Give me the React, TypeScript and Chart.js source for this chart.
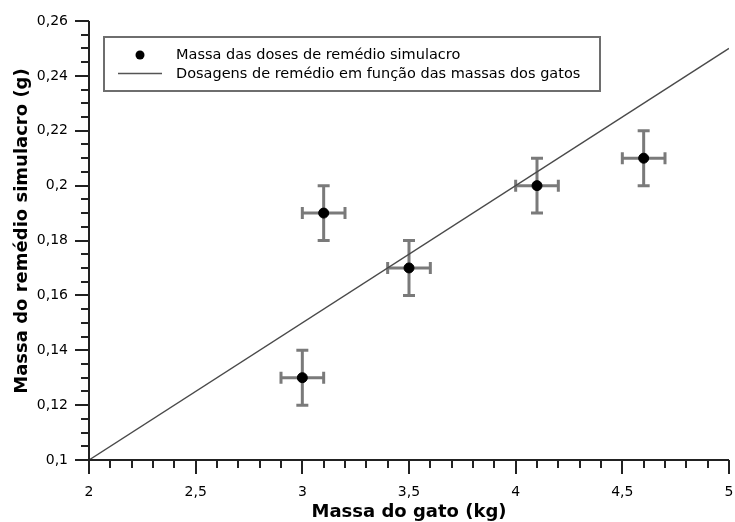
import React, { useEffect, useRef } from "react";
import { Chart, registerables } from "chart.js";

Chart.register(...registerables);

// Medições: massa do gato (kg) e massa da dose de remédio simulacro (g)
const massaGato = [3, 3.1, 3.5, 4.1, 4.6];
const massaDose = [0.13, 0.19, 0.17, 0.2, 0.21];
const erroGato = [0.1, 0.1, 0.1, 0.1, 0.1];
const erroDose = [0.01, 0.01, 0.01, 0.01, 0.01];

// Reta de dosagem em função da massa
const retaGato = [2, 5];
const retaDose = [0.1, 0.25];

const legendaPontos = "Massa das doses de remédio simulacro";
const legendaReta = "Dosagens de remédio em função das massas dos gatos";
const tituloX = "Massa do gato (kg)";
const tituloY = "Massa do remédio simulacro (g)";

const FONT = "'DejaVu Sans', Verdana, sans-serif";

const fmt = (v: number) => String(Number(v.toFixed(3))).replace(".", ",");
const isMultiple = (v: number, step: number) =>
  Math.abs(v / step - Math.round(v / step)) < 1e-6;

const errorBars = {
  id: "errorBars",
  beforeDatasetsDraw(chart: any) {
    const { ctx, scales } = chart;
    const x = scales.x;
    const y = scales.y;
    ctx.save();
    ctx.strokeStyle = "rgba(115,115,115,0.95)";
    ctx.lineWidth = 3;
    const cap = 6;
    massaGato.forEach((g, i) => {
      const px = x.getPixelForValue(g);
      const py = y.getPixelForValue(massaDose[i]);
      const x0 = x.getPixelForValue(g - erroGato[i]);
      const x1 = x.getPixelForValue(g + erroGato[i]);
      const y0 = y.getPixelForValue(massaDose[i] - erroDose[i]);
      const y1 = y.getPixelForValue(massaDose[i] + erroDose[i]);
      ctx.beginPath();
      ctx.moveTo(x0, py);
      ctx.lineTo(x1, py);
      ctx.moveTo(px, y0);
      ctx.lineTo(px, y1);
      ctx.moveTo(x0, py - cap);
      ctx.lineTo(x0, py + cap);
      ctx.moveTo(x1, py - cap);
      ctx.lineTo(x1, py + cap);
      ctx.moveTo(px - cap, y0);
      ctx.lineTo(px + cap, y0);
      ctx.moveTo(px - cap, y1);
      ctx.lineTo(px + cap, y1);
      ctx.stroke();
    });
    ctx.restore();
  },
};

const axesDecor = {
  id: "axesDecor",
  afterDraw(chart: any) {
    const { ctx, scales, chartArea } = chart;
    const x = scales.x;
    const y = scales.y;
    ctx.save();
    ctx.strokeStyle = "#222";
    ctx.lineWidth = 2;
    ctx.beginPath();
    // tick marks (major longer, minor shorter)
    x.ticks.forEach((t: any) => {
      const px = Math.round(x.getPixelForValue(t.value));
      const len = isMultiple(t.value, 0.5) ? 14 : 8;
      ctx.moveTo(px, chartArea.bottom);
      ctx.lineTo(px, chartArea.bottom + len);
    });
    y.ticks.forEach((t: any) => {
      const py = Math.round(y.getPixelForValue(t.value));
      const len = isMultiple(t.value, 0.02) ? 14 : 8;
      ctx.moveTo(chartArea.left, py);
      ctx.lineTo(chartArea.left - len, py);
    });
    // axis lines
    ctx.moveTo(chartArea.left, chartArea.top);
    ctx.lineTo(chartArea.left, chartArea.bottom);
    ctx.lineTo(chartArea.right, chartArea.bottom);
    ctx.stroke();

    // axis titles
    ctx.fillStyle = "#000";
    ctx.font = `bold 18px ${FONT}`;
    ctx.textAlign = "center";
    ctx.textBaseline = "middle";
    ctx.fillText(tituloX, (chartArea.left + chartArea.right) / 2, 512);
    ctx.translate(22, 231);
    ctx.rotate(-Math.PI / 2);
    ctx.fillText(tituloY, 0, 0);
    ctx.restore();

    // legend box
    ctx.save();
    ctx.fillStyle = "#fff";
    ctx.fillRect(104, 37, 496, 54);
    ctx.strokeStyle = "#6e6e6e";
    ctx.lineWidth = 2;
    ctx.strokeRect(104, 37, 496, 54);
    ctx.fillStyle = "#000";
    ctx.beginPath();
    ctx.arc(140, 55, 4.5, 0, Math.PI * 2);
    ctx.fill();
    ctx.strokeStyle = "#555";
    ctx.lineWidth = 1.5;
    ctx.beginPath();
    ctx.moveTo(118, 73.5);
    ctx.lineTo(162, 73.5);
    ctx.stroke();
    ctx.font = `14.5px ${FONT}`;
    ctx.textAlign = "left";
    ctx.textBaseline = "middle";
    ctx.fillText(legendaPontos, 176, 55);
    ctx.fillText(legendaReta, 176, 74);
    ctx.restore();
  },
};

export default function App() {
  const canvasRef = useRef<HTMLCanvasElement | null>(null);

  useEffect(() => {
    if (!canvasRef.current) return;
    const chart = new Chart(canvasRef.current, {
      type: "scatter",
      data: {
        datasets: [
          {
            type: "line",
            label: legendaReta,
            data: retaGato.map((g, i) => ({ x: g, y: retaDose[i] })),
            borderColor: "#4a4a4a",
            borderWidth: 1.4,
            pointRadius: 0,
            fill: false,
          },
          {
            type: "scatter",
            label: legendaPontos,
            data: massaGato.map((g, i) => ({ x: g, y: massaDose[i] })),
            backgroundColor: "#000",
            borderColor: "#000",
            pointRadius: 5,
            pointHoverRadius: 5,
          },
        ],
      },
      options: {
        animation: false,
        responsive: true,
        maintainAspectRatio: false,
        layout: { padding: { top: 21, right: 4, left: 0, bottom: 0 } },
        plugins: {
          legend: { display: false },
          tooltip: { enabled: false },
        },
        scales: {
          x: {
            type: "linear",
            min: 2,
            max: 5,
            afterFit: (s: any) => {
              s.height = 62;
              s.paddingLeft = 0;
              s.paddingRight = 0;
            },
            border: { display: false },
            grid: {
              display: true,
              drawOnChartArea: false,
              drawTicks: true,
              tickLength: 14,
              color: "rgba(0,0,0,0)",
            },
            ticks: {
              stepSize: 0.1,
              autoSkip: false,
              maxRotation: 0,
              padding: 10,
              color: "#000",
              font: { family: FONT, size: 14 },
              callback: (v: any) => (isMultiple(Number(v), 0.5) ? fmt(Number(v)) : ""),
            },
          },
          y: {
            type: "linear",
            min: 0.1,
            max: 0.26,
            afterFit: (s: any) => {
              s.width = 89;
              s.paddingTop = 0;
              s.paddingBottom = 0;
            },
            border: { display: false },
            grid: {
              display: true,
              drawOnChartArea: false,
              drawTicks: true,
              tickLength: 14,
              color: "rgba(0,0,0,0)",
            },
            ticks: {
              stepSize: 0.005,
              autoSkip: false,
              padding: 7,
              color: "#000",
              font: { family: FONT, size: 14 },
              callback: (v: any) => (isMultiple(Number(v), 0.02) ? fmt(Number(v)) : ""),
            },
          },
        },
      },
      plugins: [errorBars, axesDecor],
    });
    return () => chart.destroy();
  }, []);

  return (
    <div style={{ position: "absolute", left: 0, top: 0, width: 735, height: 522, background: "#fff" }}>
      <canvas ref={canvasRef} />
    </div>
  );
}
